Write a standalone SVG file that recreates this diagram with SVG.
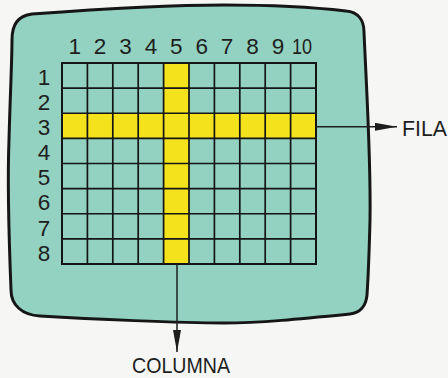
<svg xmlns="http://www.w3.org/2000/svg" width="448" height="378" viewBox="0 0 448 378">
<style>
.lbl{font-family:"Liberation Sans",Arial,sans-serif;font-size:22.5px;fill:#1e1e1e;text-anchor:middle}
.cap{font-family:"Liberation Sans",Arial,sans-serif;font-size:22.5px;fill:#1e1e1e}
.gl{stroke:#151515;stroke-width:1.7;fill:none}
.yel{fill:#f4e31c}
.arr{stroke:#1e1e1e;stroke-width:1.5;fill:none}
</style>
<defs>
<marker id="ah" viewBox="0 0 22 8" refX="22" refY="4" markerWidth="22" markerHeight="8" markerUnits="userSpaceOnUse" orient="auto">
<path d="M0,0 L22,4 L0,8 Z" fill="#1e1e1e"/>
</marker>
</defs>
<rect width="448" height="378" fill="#f6f6f4"/>
<g id="screen">
<path d="M 12,40 C 12,24 18,16 32,14 C 100,9 170,5 224,5 C 280,5 320,8 346,11 C 358,12 364,20 364,32 C 367,100 371,160 370,220 C 369,260 368,280 367,295 C 366,306 360,313 350,314 C 300,319 260,323 224,323 C 180,323 90,319 40,316 C 22,315 11,305 11,290 C 9,240 7,190 9,140 C 10,100 12,60 12,40 Z" fill="#93d2c0" stroke="#161616" stroke-width="3"/>
</g>
<g id="grid">
<rect class="yel" x="163.6" y="63" width="25.4" height="201"/>
<rect class="yel" x="62" y="113.25" width="254" height="25.15"/>
<path class="gl" d="M62,63V264M87.4,63V264M112.8,63V264M138.2,63V264M163.6,63V264M189,63V264M214.4,63V264M239.8,63V264M265.2,63V264M290.6,63V264M316,63V264"/>
<path class="gl" d="M62,63H316M62,88.1H316M62,113.25H316M62,138.4H316M62,163.5H316M62,188.6H316M62,213.75H316M62,238.9H316M62,264H316"/>
<rect x="62" y="63" width="254" height="201" fill="none" stroke="#151515" stroke-width="2"/>
</g>
<g id="column-labels">
<text class="lbl" x="74.7" y="53.5">1</text>
<text class="lbl" x="100.1" y="53.5">2</text>
<text class="lbl" x="125.5" y="53.5">3</text>
<text class="lbl" x="150.9" y="53.5">4</text>
<text class="lbl" x="176.3" y="53.5">5</text>
<text class="lbl" x="201.7" y="53.5">6</text>
<text class="lbl" x="227.1" y="53.5">7</text>
<text class="lbl" x="252.5" y="53.5">8</text>
<text class="lbl" x="277.9" y="53.5">9</text>
<text class="lbl" x="302" y="53.5" textLength="20" lengthAdjust="spacingAndGlyphs">10</text>
</g>
<g id="row-labels">
<text class="lbl" x="44" y="84.8">1</text>
<text class="lbl" x="44" y="109.9">2</text>
<text class="lbl" x="44" y="135">3</text>
<text class="lbl" x="44" y="160.2">4</text>
<text class="lbl" x="44" y="185.3">5</text>
<text class="lbl" x="44" y="210.4">6</text>
<text class="lbl" x="44" y="235.6">7</text>
<text class="lbl" x="44" y="260.7">8</text>
</g>
<g id="connectors">
<line class="arr" x1="316" y1="126.8" x2="397" y2="126.8" marker-end="url(#ah)"/>
<line class="arr" x1="177" y1="264" x2="177" y2="352" marker-end="url(#ah)"/>
</g>
<g id="label-fila">
<text class="cap" x="402" y="135.5" textLength="45" lengthAdjust="spacingAndGlyphs">FILA</text>
</g>
<g id="label-columna">
<text class="cap" x="132" y="373" textLength="98" lengthAdjust="spacingAndGlyphs">COLUMNA</text>
</g>
</svg>
